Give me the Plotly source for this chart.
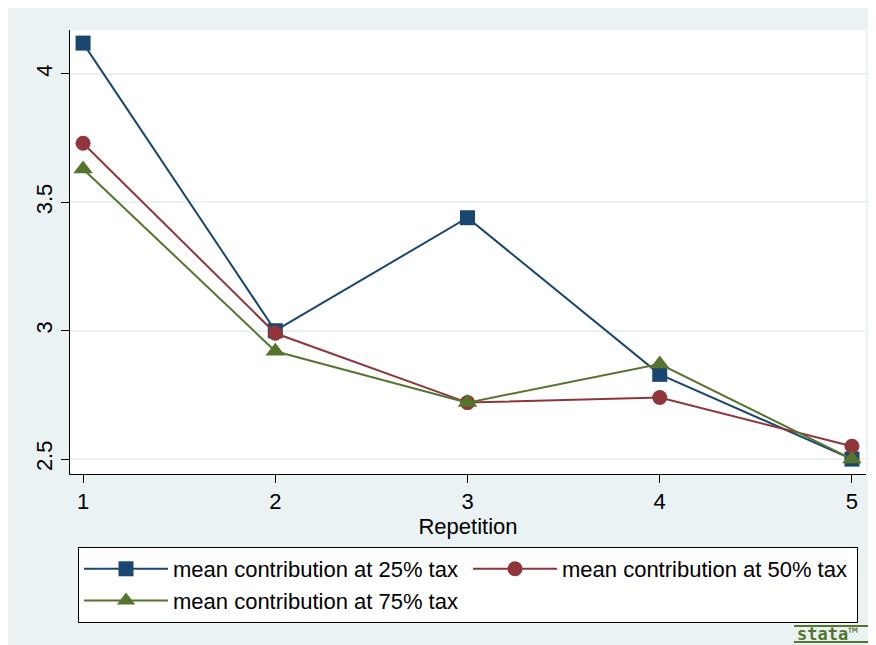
import plotly.graph_objects as go

repetition = [1, 2, 3, 4, 5]
tax25 = [4.12, 3.00, 3.44, 2.83, 2.50]
tax50 = [3.73, 2.99, 2.72, 2.74, 2.55]
tax75 = [3.63, 2.92, 2.72, 2.87, 2.50]
y_ticks = [2.5, 3, 3.5, 4]
y_tick_labels = ["2.5", "3", "3.5", "4"]
x_ticks = [1, 2, 3, 4, 5]

BLUE = "#1A476F"
RED = "#90353B"
GREEN = "#55752F"
BG = "#EAF2F3"

fig = go.Figure()
fig.add_trace(go.Scatter(x=repetition, y=tax25, mode="lines+markers",
                         name="mean contribution at 25% tax",
                         line=dict(color=BLUE, width=2),
                         marker=dict(symbol="square", size=15, color=BLUE)))
fig.add_trace(go.Scatter(x=repetition, y=tax50, mode="lines+markers",
                         name="mean contribution at 50% tax",
                         line=dict(color=RED, width=2),
                         marker=dict(symbol="circle", size=15, color=RED)))
fig.add_trace(go.Scatter(x=repetition, y=tax75, mode="lines+markers",
                         name="mean contribution at 75% tax",
                         line=dict(color=GREEN, width=2),
                         marker=dict(symbol="triangle-up", size=17, color=GREEN)))

OFF = 8  # page margin of the browser
W, H = 876 - OFF, 645 - OFF
l, r, t, b = 62, 10, 22, 171
pw, ph = W - l - r, H - t - b

def px_x(sx):
    return (sx - OFF - l) / pw

def px_y(sy):
    return (H - b - (sy - OFF)) / ph

fig.update_layout(
    width=W, height=H,
    margin=dict(l=l, r=r, t=t, b=b),
    paper_bgcolor=BG,
    plot_bgcolor="white",
    font=dict(family="Liberation Sans, Arial, sans-serif", size=22, color="#000000"),
    showlegend=True,
    legend=dict(
        orientation="h",
        x=px_x(78), xanchor="left",
        y=px_y(547), yanchor="top",
        bgcolor="white",
        bordercolor="black",
        borderwidth=1,
        itemwidth=84,
        entrywidth=290,
        font=dict(size=22),
        traceorder="normal",
    ),
    xaxis=dict(
        range=[0.932, 5.073],
        tickvals=x_ticks,
        ticks="outside", ticklen=8, tickcolor="black",
        showline=True, linecolor="black", linewidth=1,
        showgrid=False, zeroline=False,
        title=dict(text="Repetition", font=dict(size=22), standoff=0),
        tickfont=dict(size=22),
    ),
    yaxis=dict(
        range=[2.442, 4.171],
        tickvals=y_ticks, ticktext=y_tick_labels,
        tickangle=-90,
        ticks="outside", ticklen=8, tickcolor="black",
        showline=True, linecolor="black", linewidth=1,
        showgrid=True, gridcolor=BG, gridwidth=2,
        zeroline=False,
        tickfont=dict(size=22),
    ),
    shapes=[
        dict(type="line", xref="paper", yref="paper",
             x0=px_x(794), x1=px_x(876), y0=px_y(626), y1=px_y(626),
             line=dict(color=GREEN, width=2)),
        dict(type="line", xref="paper", yref="paper",
             x0=px_x(794), x1=px_x(876), y0=px_y(642), y1=px_y(642),
             line=dict(color=GREEN, width=2)),
    ],
    annotations=[
        dict(text="<b>stata</b>™", xref="paper", yref="paper",
             x=px_x(795), y=px_y(634), xanchor="left", yanchor="middle",
             showarrow=False, font=dict(size=17, color=GREEN,
                                        family="DejaVu Sans Mono, monospace")),
    ],
)

fig.write_html("out.html")
